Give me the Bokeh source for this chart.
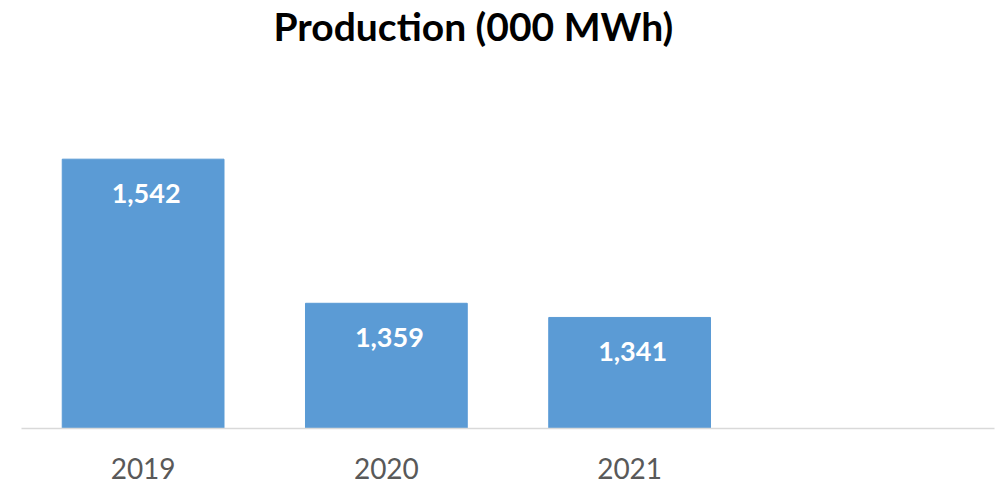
from bokeh.plotting import figure
from bokeh.models import Range1d, FactorRange, ColumnDataSource, Title
from bokeh.core.properties import value
from bokeh.embed import file_html
from bokeh.resources import INLINE

years = ["2019", "2020", "2021", " "]
production = [1542, 1359, 1341]
labels = ["1,542", "1,359", "1,341"]

src = ColumnDataSource(dict(x=years[:3], top=production, lab=labels))

p = figure(x_range=FactorRange(*years), y_range=Range1d(1200, 1600),
           width=1005, height=487, output_backend="svg", toolbar_location=None,
           min_border_left=21, min_border_right=11, min_border_top=113,
           min_border_bottom=59, title="Production (000 MWh)")
p.outline_line_color = None
p.xgrid.grid_line_color = None
p.ygrid.grid_line_color = None
p.yaxis.visible = False

p.title.text_font = "Lato"
p.title.text_font_size = "39px"
p.title.text_font_style = "bold"
p.title.text_color = "#000000"
p.title.align = "left"
p.title.offset = 252
p.title.standoff = 0

spacer = Title(text=" ", text_font_size="2px", standoff=61)
p.add_layout(spacer, "above")

p.vbar(x="x", top="top", bottom=1200, width=0.665, color="#5B9BD5", source=src)
p.text(x="x", y="top", text="lab", source=src, text_font=value("Lato"),
       text_font_size="27px", text_font_style="bold", text_color="white",
       text_align="center", text_baseline="middle", y_offset=34, x_offset=3)

ax = p.xaxis[0]
ax.axis_line_color = "#D9D9D9"
ax.axis_line_width = 1.5
ax.major_tick_line_color = None
ax.minor_tick_line_color = None
ax.major_label_text_font = "Lato"
ax.major_label_text_font_size = "28px"
ax.major_label_text_color = "#595959"
ax.major_label_standoff = 16

open("out.html", "w").write(file_html(p, INLINE))
